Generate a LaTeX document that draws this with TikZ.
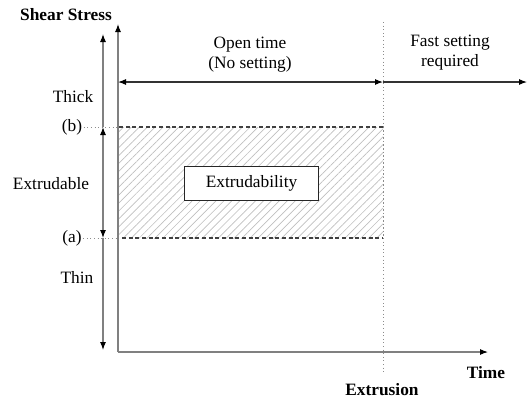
\documentclass[tikz,border=0pt]{standalone}
\usepackage{fontspec}
\setmainfont{Liberation Serif}
\usetikzlibrary{arrows.meta,patterns.meta}
\begin{document}
\begin{tikzpicture}[x=0.75pt,y=-0.75pt]
\tikzset{every node/.style={font=\fontsize{13}{15}\selectfont, inner sep=1pt},
  axisline/.style={draw=black!50, line width=0.8pt},
  tip/.style={-{Latex[black,length=6pt,width=4.5pt]}},
  guide/.style={draw=black!45, dotted, line width=0.7pt}}
\useasboundingbox (0,0) rectangle (529,401);

% Coordinates for axes
\coordinate (O) at (118,352);
\coordinate (ytop) at (118,24);
\coordinate (xend) at (488,352);
\coordinate (stop) at (103,34);
\coordinate (sb) at (103,127);
\coordinate (sa) at (103,238);
\coordinate (sbot) at (103,350);
\coordinate (tl) at (118,82);
\coordinate (tm) at (383,82);
\coordinate (tr) at (527,82);
\coordinate (etop) at (383,22);
\coordinate (ebot) at (383,373);

% Extrudable region
\fill[pattern={Lines[angle=45,distance=4.2pt,line width=0.5pt]}, pattern color=black!25]
  (118,127) rectangle (383,238);
\draw[draw=black!75, dashed, dash pattern=on 3pt off 2pt, line width=0.8pt]
  (383,127) -- (118,127) -- (118,238) -- (383,238);
\draw[guide] (383,127) -- (383,238);

% Nodes for labels
\node at (66,15) (shear) {\bfseries Shear Stress};
\node at (73,97) (thick) {Thick};
\node at (72,127) (b) {(b)};
\node at (51,184) (extr) {Extrudable};
\node at (72,238) (a) {(a)};
\node at (77,277) (thin) {Thin};
\node at (486,373) (time) {\bfseries Time};
\node at (382,390) (extrusion) {\bfseries Extrusion};
\node[align=center] at (250,55) (open) {Open time\\(No setting)};
\node[align=center] at (450,53) (fast) {Fast setting\\required};
\node[draw=black!85, line width=0.8pt, minimum width=100pt, minimum height=26pt, fill=white]
  at (251.5,183.5) (box) {Extrudability};

% Lines for axes
\draw[axisline, tip] (O) -- (ytop);
\draw[axisline, tip] (O) -- (xend);
\draw[guide] (etop) -- (ebot);
\draw[guide] (b.east) -- (118,127);
\draw[guide] (a.east) -- (118,238);

% Arrows for viscosity
\draw[axisline, tip] (sb) -- (stop);
\draw[axisline, {Latex[black,length=6pt,width=4.5pt]}-{Latex[black,length=6pt,width=4.5pt]}] (sa) -- (sb);
\draw[axisline, tip] (sa) -- (sbot);

% Arrows for time
\draw[draw=black!80, line width=0.8pt, {Latex[black,length=6pt,width=4.5pt]}-{Latex[black,length=6pt,width=4.5pt]}] (tl) -- (tm);
\draw[draw=black!80, line width=0.8pt, tip] (tm) -- (tr);
\end{tikzpicture}
\end{document}
